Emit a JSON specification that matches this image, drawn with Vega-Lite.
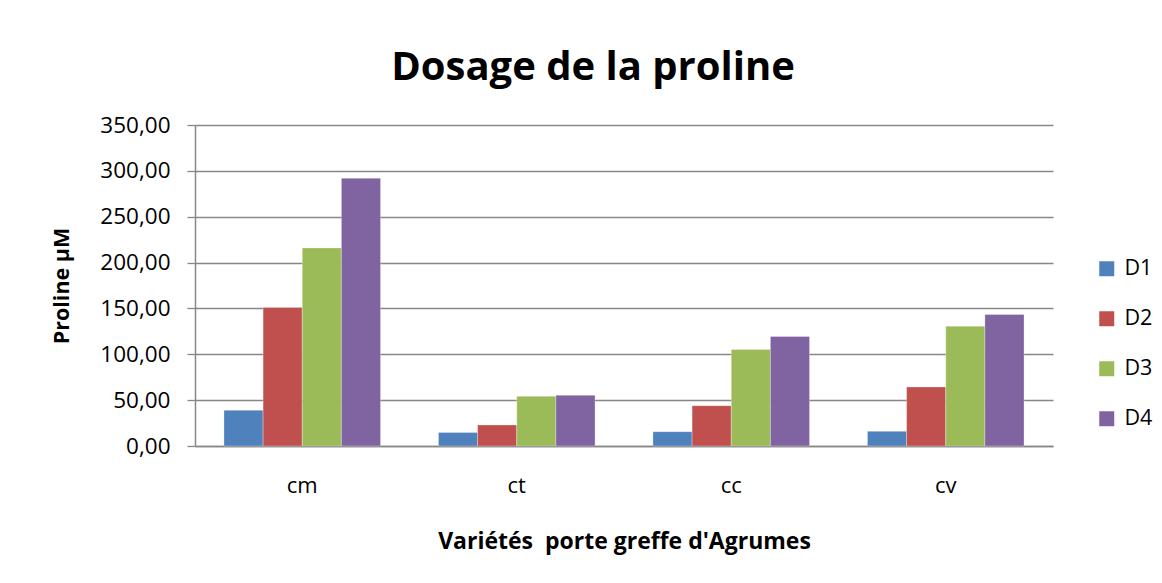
{
  "$schema": "https://vega.github.io/schema/vega-lite/v6.json",
  "width": 858,
  "height": 321,
  "autosize": {"type": "none"},
  "padding": {"left": 195, "top": 125, "right": 109, "bottom": 137},
  "background": "white",
  "config": {
    "locale": {"number": {"decimal": ",", "thousands": " ", "grouping": [3], "currency": ["", " €"]}},
    "view": {"stroke": null},
    "font": "Open Sans"
  },
  "title": {
    "text": "Dosage de la proline",
    "font": "Open Sans",
    "fontSize": 40,
    "fontWeight": "bold",
    "color": "black",
    "anchor": "middle",
    "frame": "group",
    "dx": -31,
    "offset": 26
  },
  "data": {
    "values": [
      {"variete": "cm", "dose": "D1", "proline": 39},
      {"variete": "cm", "dose": "D2", "proline": 151},
      {"variete": "cm", "dose": "D3", "proline": 216},
      {"variete": "cm", "dose": "D4", "proline": 292},
      {"variete": "ct", "dose": "D1", "proline": 14.6},
      {"variete": "ct", "dose": "D2", "proline": 22.9},
      {"variete": "ct", "dose": "D3", "proline": 54.2},
      {"variete": "ct", "dose": "D4", "proline": 55.3},
      {"variete": "cc", "dose": "D1", "proline": 15.6},
      {"variete": "cc", "dose": "D2", "proline": 44},
      {"variete": "cc", "dose": "D3", "proline": 105.2},
      {"variete": "cc", "dose": "D4", "proline": 119.4},
      {"variete": "cv", "dose": "D1", "proline": 16},
      {"variete": "cv", "dose": "D2", "proline": 64.4},
      {"variete": "cv", "dose": "D3", "proline": 130.6},
      {"variete": "cv", "dose": "D4", "proline": 143.4}
    ]
  },
  "mark": {"type": "bar", "stroke": "white", "strokeWidth": 0.5, "strokeOpacity": 0.6},
  "encoding": {
    "x": {
      "field": "variete",
      "type": "nominal",
      "sort": ["cm", "ct", "cc", "cv"],
      "scale": {"paddingInner": 0.27, "paddingOuter": 0.135},
      "axis": {
        "title": "Variétés\u00a0 porte greffe d'Agrumes",
        "titleFont": "Open Sans",
        "titleFontSize": 23,
        "titleFontWeight": "bold",
        "titleColor": "black",
        "titlePadding": 34,
        "labelAngle": 0,
        "labelFont": "Open Sans",
        "labelFontSize": 22,
        "labelColor": "black",
        "labelPadding": 29,
        "ticks": false,
        "domainColor": "#878787",
        "domainWidth": 1.5,
        "grid": false
      }
    },
    "xOffset": {"field": "dose", "type": "nominal", "scale": {"paddingInner": 0, "paddingOuter": 0}},
    "y": {
      "field": "proline",
      "type": "quantitative",
      "scale": {"domain": [0, 350], "nice": false},
      "axis": {
        "title": "Proline µM",
        "titleFont": "Open Sans",
        "titleFontSize": 21.5,
        "titleFontWeight": "bold",
        "titleColor": "black",
        "titlePadding": 26,
        "values": [0, 50, 100, 150, 200, 250, 300, 350],
        "format": ".2f",
        "labelFont": "Open Sans",
        "labelFontSize": 22.5,
        "labelColor": "black",
        "labelPadding": 17,
        "tickSize": 8,
        "tickColor": "#878787",
        "tickWidth": 1.3,
        "domainColor": "#878787",
        "domainWidth": 1.5,
        "gridColor": "#878787",
        "gridWidth": 1.3
      }
    },
    "color": {
      "field": "dose",
      "type": "nominal",
      "scale": {"domain": ["D1", "D2", "D3", "D4"], "range": ["#4F81BD", "#C0504D", "#9BBB59", "#8064A2"]},
      "legend": {
        "title": null,
        "orient": "none",
        "legendX": 901,
        "legendY": 133,
        "padding": 0,
        "symbolType": "square",
        "symbolSize": 225,
        "symbolStrokeWidth": 0,
        "labelFont": "Open Sans",
        "labelFontSize": 21.5,
        "labelColor": "black",
        "labelOffset": 7,
        "rowPadding": 27
      }
    }
  }
}
